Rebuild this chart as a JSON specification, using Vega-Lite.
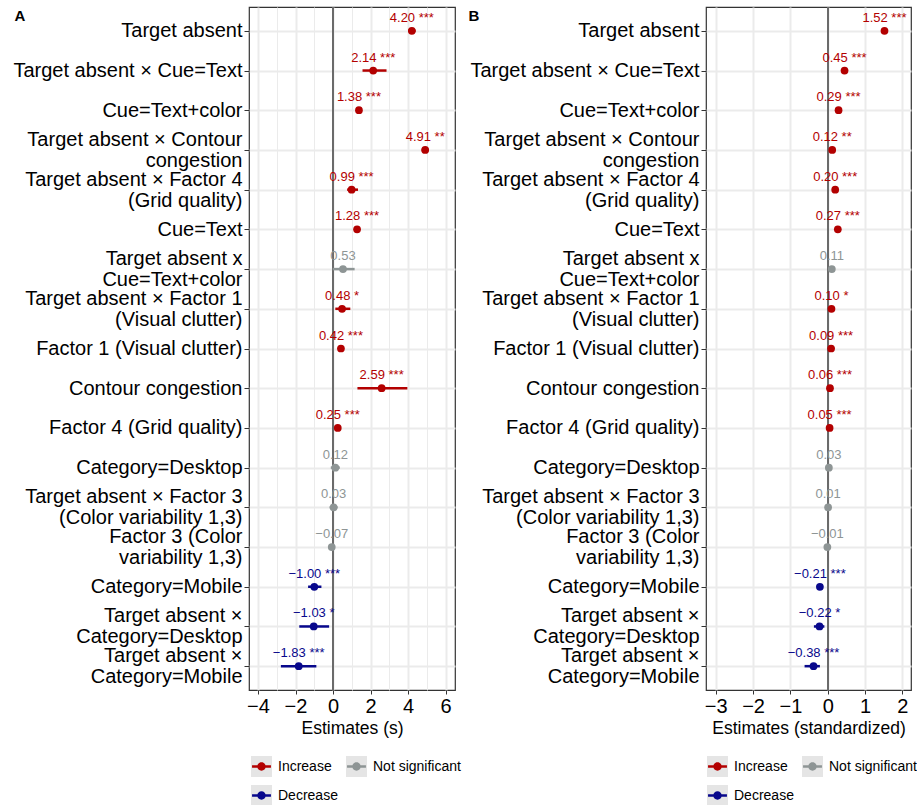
{
  "$schema": "https://vega.github.io/schema/vega-lite/v6.json",
  "padding": {"left": 12, "top": 5, "right": 0, "bottom": 5},
  "spacing": 5,
  "config": {
    "font": "Liberation Sans",
    "view": {"stroke": "#333333", "strokeWidth": 1.2},
    "axis": {"labelColor": "#000000", "tickColor": "#333333", "domain": false, "grid": true, "gridColor": "#EBEBEB", "titleColor": "#000000"},
    "axisX": {"labelFontSize": 20, "labelPadding": 2, "tickSize": 4, "labelOverlap": false, "labelFlush": false, "titleFontSize": 17.5, "titleFontWeight": "normal", "titlePadding": 3},
    "axisY": {"labelFontSize": 20, "labelLineHeight": 21, "labelPadding": 2, "labelLimit": 400, "tickSize": 5, "gridWidth": 2, "titleAngle": 0, "titleAlign": "left", "titleBaseline": "top", "titleFontSize": 15, "titleFontWeight": "bold"}
  },
  "datasets": {
    "a": [
      {"term": "Target absent", "est": 4.20, "lo": 4.0, "hi": 4.4, "sig": "Increase", "label": "4.20 ***"},
      {"term": "Target absent × Cue=Text", "est": 2.14, "lo": 1.57, "hi": 2.85, "sig": "Increase", "label": "2.14 ***"},
      {"term": "Cue=Text+color", "est": 1.38, "lo": 1.24, "hi": 1.52, "sig": "Increase", "label": "1.38 ***"},
      {"term": "Target absent × Contour\ncongestion", "est": 4.91, "lo": 4.72, "hi": 5.10, "sig": "Increase", "label": "4.91 **"},
      {"term": "Target absent × Factor 4\n(Grid quality)", "est": 0.99, "lo": 0.75, "hi": 1.33, "sig": "Increase", "label": "0.99 ***"},
      {"term": "Cue=Text", "est": 1.28, "lo": 1.13, "hi": 1.43, "sig": "Increase", "label": "1.28 ***"},
      {"term": "Target absent x\nCue=Text+color", "est": 0.53, "lo": -0.02, "hi": 1.15, "sig": "Not significant", "label": "0.53"},
      {"term": "Target absent × Factor 1\n(Visual clutter)", "est": 0.48, "lo": 0.12, "hi": 0.92, "sig": "Increase", "label": "0.48 *"},
      {"term": "Factor 1 (Visual clutter)", "est": 0.42, "lo": 0.32, "hi": 0.52, "sig": "Increase", "label": "0.42 ***"},
      {"term": "Contour congestion", "est": 2.59, "lo": 1.30, "hi": 3.96, "sig": "Increase", "label": "2.59 ***"},
      {"term": "Factor 4 (Grid quality)", "est": 0.25, "lo": 0.15, "hi": 0.35, "sig": "Increase", "label": "0.25 ***"},
      {"term": "Category=Desktop", "est": 0.12, "lo": -0.12, "hi": 0.36, "sig": "Not significant", "label": "0.12"},
      {"term": "Target absent × Factor 3\n(Color variability 1,3)", "est": 0.03, "lo": -0.18, "hi": 0.24, "sig": "Not significant", "label": "0.03"},
      {"term": "Factor 3 (Color\nvariability 1,3)", "est": -0.07, "lo": -0.17, "hi": 0.03, "sig": "Not significant", "label": "−0.07"},
      {"term": "Category=Mobile", "est": -1.00, "lo": -1.33, "hi": -0.62, "sig": "Decrease", "label": "−1.00 ***"},
      {"term": "Target absent ×\nCategory=Desktop", "est": -1.03, "lo": -1.80, "hi": -0.21, "sig": "Decrease", "label": "−1.03 *"},
      {"term": "Target absent ×\nCategory=Mobile", "est": -1.83, "lo": -2.78, "hi": -0.89, "sig": "Decrease", "label": "−1.83 ***"}
    ],
    "b": [
      {"term": "Target absent", "est": 1.52, "lo": 1.44, "hi": 1.60, "sig": "Increase", "label": "1.52 ***"},
      {"term": "Target absent × Cue=Text", "est": 0.45, "lo": 0.37, "hi": 0.53, "sig": "Increase", "label": "0.45 ***"},
      {"term": "Cue=Text+color", "est": 0.29, "lo": 0.25, "hi": 0.33, "sig": "Increase", "label": "0.29 ***"},
      {"term": "Target absent × Contour\ncongestion", "est": 0.12, "lo": 0.08, "hi": 0.16, "sig": "Increase", "label": "0.12 **"},
      {"term": "Target absent × Factor 4\n(Grid quality)", "est": 0.20, "lo": 0.16, "hi": 0.24, "sig": "Increase", "label": "0.20 ***"},
      {"term": "Cue=Text", "est": 0.27, "lo": 0.23, "hi": 0.31, "sig": "Increase", "label": "0.27 ***"},
      {"term": "Target absent x\nCue=Text+color", "est": 0.11, "lo": 0.05, "hi": 0.17, "sig": "Not significant", "label": "0.11"},
      {"term": "Target absent × Factor 1\n(Visual clutter)", "est": 0.10, "lo": 0.06, "hi": 0.14, "sig": "Increase", "label": "0.10 *"},
      {"term": "Factor 1 (Visual clutter)", "est": 0.09, "lo": 0.06, "hi": 0.12, "sig": "Increase", "label": "0.09 ***"},
      {"term": "Contour congestion", "est": 0.06, "lo": 0.04, "hi": 0.08, "sig": "Increase", "label": "0.06 ***"},
      {"term": "Factor 4 (Grid quality)", "est": 0.05, "lo": 0.03, "hi": 0.07, "sig": "Increase", "label": "0.05 ***"},
      {"term": "Category=Desktop", "est": 0.03, "lo": 0.0, "hi": 0.06, "sig": "Not significant", "label": "0.03"},
      {"term": "Target absent × Factor 3\n(Color variability 1,3)", "est": 0.01, "lo": -0.03, "hi": 0.05, "sig": "Not significant", "label": "0.01"},
      {"term": "Factor 3 (Color\nvariability 1,3)", "est": -0.01, "lo": -0.03, "hi": 0.01, "sig": "Not significant", "label": "−0.01"},
      {"term": "Category=Mobile", "est": -0.21, "lo": -0.26, "hi": -0.16, "sig": "Decrease", "label": "−0.21 ***"},
      {"term": "Target absent ×\nCategory=Desktop", "est": -0.22, "lo": -0.37, "hi": -0.09, "sig": "Decrease", "label": "−0.22 *"},
      {"term": "Target absent ×\nCategory=Mobile", "est": -0.38, "lo": -0.62, "hi": -0.21, "sig": "Decrease", "label": "−0.38 ***"}
    ]
  },
  "resolve": {
    "scale": {"x": "independent", "fill": "independent", "color": "independent"},
    "legend": {"fill": "independent", "color": "independent"}
  },
  "hconcat": [
    {
      "width": 206,
      "height": 683,
      "data": {"name": "a"},
      "layer": [
        {
          "mark": {"type": "rule", "color": "#6B6B6B", "strokeWidth": 1.2},
          "encoding": {
            "x": {"datum": 0, "type": "quantitative", "scale": {"domain": [-4.48, 6.5], "nice": false, "zero": false},
              "axis": {"title": "Estimates (s)", "values": [-4, -3, -2, -1, 0, 1, 2, 3, 4, 5, 6], "labelExpr": "datum.value % 2 === 0 ? datum.label : ''", "tickOpacity": {"condition": {"test": "datum.value % 2 !== 0", "value": 0}, "value": 1}, "gridWidth": {"condition": {"test": "datum.value % 2 !== 0", "value": 1}, "value": 2}}}
          }
        },
        {
          "mark": {"type": "rule", "strokeWidth": 2.5},
          "encoding": {
            "y": {"field": "term", "type": "nominal", "sort": null, "scale": {"type": "point", "padding": 0.6},
              "axis": {"title": "A", "titleX": -235, "titleY": 1, "labelExpr": "split(datum.label, '\\n')", "labelOffset": {"condition": {"test": "indexof(datum.label, '\\n') >= 0", "value": -10.5}, "value": 0}}},
            "x": {"field": "lo", "type": "quantitative", "scale": {"domain": [-4.48, 6.5], "nice": false, "zero": false},
              "axis": {"title": "Estimates (s)", "values": [-4, -3, -2, -1, 0, 1, 2, 3, 4, 5, 6], "labelExpr": "datum.value % 2 === 0 ? datum.label : ''", "tickOpacity": {"condition": {"test": "datum.value % 2 !== 0", "value": 0}, "value": 1}, "gridWidth": {"condition": {"test": "datum.value % 2 !== 0", "value": 1}, "value": 2}}},
            "x2": {"field": "hi"},
            "stroke": {"condition": [{"test": "datum.sig === 'Increase'", "value": "#B30000"}, {"test": "datum.sig === 'Decrease'", "value": "#08088C"}], "value": "#8E9595"}
          }
        },
        {
          "mark": {"type": "square", "opacity": 0, "size": 4},
          "encoding": {
            "y": {"field": "term", "type": "nominal", "sort": null, "scale": {"type": "point", "padding": 0.6},
              "axis": {"title": "A", "titleX": -235, "titleY": 1, "labelExpr": "split(datum.label, '\\n')", "labelOffset": {"condition": {"test": "indexof(datum.label, '\\n') >= 0", "value": -10.5}, "value": 0}}},
            "x": {"field": "est", "type": "quantitative", "scale": {"domain": [-4.48, 6.5], "nice": false, "zero": false},
              "axis": {"title": "Estimates (s)", "values": [-4, -3, -2, -1, 0, 1, 2, 3, 4, 5, 6], "labelExpr": "datum.value % 2 === 0 ? datum.label : ''", "tickOpacity": {"condition": {"test": "datum.value % 2 !== 0", "value": 0}, "value": 1}, "gridWidth": {"condition": {"test": "datum.value % 2 !== 0", "value": 1}, "value": 2}}},
            "color": {"field": "sig", "type": "nominal", "scale": {"domain": ["Decrease", "Not significant", "Increase"], "range": ["#E5E5E5", "#E5E5E5", "#E5E5E5"]},
              "legend": {"orient": "none", "legendX": 2, "legendY": 749, "direction": "horizontal", "columns": 2, "title": null, "symbolType": "square", "symbolSize": 441, "symbolOpacity": 1, "symbolStrokeWidth": 0, "labelOpacity": 0, "labelExpr": "datum.label === 'Decrease' ? 'Increase' : datum.label === 'Increase' ? 'Decrease' : datum.label", "labelFontSize": 14, "labelOffset": 6, "columnPadding": 8, "rowPadding": 8}}
          }
        },
        {
          "mark": {"type": "circle", "size": 60, "opacity": 1},
          "encoding": {
            "y": {"field": "term", "type": "nominal", "sort": null, "scale": {"type": "point", "padding": 0.6},
              "axis": {"title": "A", "titleX": -235, "titleY": 1, "labelExpr": "split(datum.label, '\\n')", "labelOffset": {"condition": {"test": "indexof(datum.label, '\\n') >= 0", "value": -10.5}, "value": 0}}},
            "x": {"field": "est", "type": "quantitative", "scale": {"domain": [-4.48, 6.5], "nice": false, "zero": false},
              "axis": {"title": "Estimates (s)", "values": [-4, -3, -2, -1, 0, 1, 2, 3, 4, 5, 6], "labelExpr": "datum.value % 2 === 0 ? datum.label : ''", "tickOpacity": {"condition": {"test": "datum.value % 2 !== 0", "value": 0}, "value": 1}, "gridWidth": {"condition": {"test": "datum.value % 2 !== 0", "value": 1}, "value": 2}}},
            "fill": {"field": "sig", "type": "nominal", "scale": {"domain": ["Increase", "Not significant", "Decrease"], "range": ["#B30000", "#8E9595", "#08088C"]},
              "legend": {"orient": "none", "legendX": 2, "legendY": 749, "direction": "horizontal", "columns": 2, "title": null, "symbolType": "M-1,-1M1,1M-0.9,-0.13H0.9V0.13H-0.9Z M0.4,0A0.4,0.4 0 1,1 -0.4,0A0.4,0.4 0 1,1 0.4,0Z", "symbolSize": 441, "symbolOpacity": 1, "symbolStrokeWidth": 0, "labelFontSize": 14, "labelColor": "#000000", "labelOffset": 6, "columnPadding": 8, "rowPadding": 8}}
          }
        },
        {
          "mark": {"type": "text", "fontSize": 13, "dy": -9, "baseline": "alphabetic", "align": "center"},
          "encoding": {
            "y": {"field": "term", "type": "nominal", "sort": null, "scale": {"type": "point", "padding": 0.6},
              "axis": {"title": "A", "titleX": -235, "titleY": 1, "labelExpr": "split(datum.label, '\\n')", "labelOffset": {"condition": {"test": "indexof(datum.label, '\\n') >= 0", "value": -10.5}, "value": 0}}},
            "x": {"field": "est", "type": "quantitative", "scale": {"domain": [-4.48, 6.5], "nice": false, "zero": false},
              "axis": {"title": "Estimates (s)", "values": [-4, -3, -2, -1, 0, 1, 2, 3, 4, 5, 6], "labelExpr": "datum.value % 2 === 0 ? datum.label : ''", "tickOpacity": {"condition": {"test": "datum.value % 2 !== 0", "value": 0}, "value": 1}, "gridWidth": {"condition": {"test": "datum.value % 2 !== 0", "value": 1}, "value": 2}}},
            "text": {"field": "label", "type": "nominal"},
            "fill": {"condition": [{"test": "datum.sig === 'Increase'", "value": "#B30000"}, {"test": "datum.sig === 'Decrease'", "value": "#08088C"}], "value": "#8E9595"}
          }
        }
      ]
    },
    {
      "width": 205,
      "height": 683,
      "data": {"name": "b"},
      "layer": [
        {
          "mark": {"type": "rule", "color": "#6B6B6B", "strokeWidth": 1.2},
          "encoding": {
            "x": {"datum": 0, "type": "quantitative", "scale": {"domain": [-3.26, 2.23], "nice": false, "zero": false},
              "axis": {"title": "Estimates (standardized)", "format": "d", "values": [-3, -2.5, -2, -1.5, -1, -0.5, 0, 0.5, 1, 1.5, 2], "labelExpr": "datum.value % 1 === 0 ? datum.label : ''", "tickOpacity": {"condition": {"test": "datum.value % 1 !== 0", "value": 0}, "value": 1}, "gridWidth": {"condition": {"test": "datum.value % 1 !== 0", "value": 1}, "value": 2}}}
          }
        },
        {
          "mark": {"type": "rule", "strokeWidth": 2.5},
          "encoding": {
            "y": {"field": "term", "type": "nominal", "sort": null, "scale": {"type": "point", "padding": 0.6},
              "axis": {"title": "B", "titleX": -238, "titleY": 1, "labelExpr": "split(datum.label, '\\n')", "labelOffset": {"condition": {"test": "indexof(datum.label, '\\n') >= 0", "value": -10.5}, "value": 0}}},
            "x": {"field": "lo", "type": "quantitative", "scale": {"domain": [-3.26, 2.23], "nice": false, "zero": false},
              "axis": {"title": "Estimates (standardized)", "format": "d", "values": [-3, -2.5, -2, -1.5, -1, -0.5, 0, 0.5, 1, 1.5, 2], "labelExpr": "datum.value % 1 === 0 ? datum.label : ''", "tickOpacity": {"condition": {"test": "datum.value % 1 !== 0", "value": 0}, "value": 1}, "gridWidth": {"condition": {"test": "datum.value % 1 !== 0", "value": 1}, "value": 2}}},
            "x2": {"field": "hi"},
            "stroke": {"condition": [{"test": "datum.sig === 'Increase'", "value": "#B30000"}, {"test": "datum.sig === 'Decrease'", "value": "#08088C"}], "value": "#8E9595"}
          }
        },
        {
          "mark": {"type": "square", "opacity": 0, "size": 4},
          "encoding": {
            "y": {"field": "term", "type": "nominal", "sort": null, "scale": {"type": "point", "padding": 0.6},
              "axis": {"title": "B", "titleX": -238, "titleY": 1, "labelExpr": "split(datum.label, '\\n')", "labelOffset": {"condition": {"test": "indexof(datum.label, '\\n') >= 0", "value": -10.5}, "value": 0}}},
            "x": {"field": "est", "type": "quantitative", "scale": {"domain": [-3.26, 2.23], "nice": false, "zero": false},
              "axis": {"title": "Estimates (standardized)", "format": "d", "values": [-3, -2.5, -2, -1.5, -1, -0.5, 0, 0.5, 1, 1.5, 2], "labelExpr": "datum.value % 1 === 0 ? datum.label : ''", "tickOpacity": {"condition": {"test": "datum.value % 1 !== 0", "value": 0}, "value": 1}, "gridWidth": {"condition": {"test": "datum.value % 1 !== 0", "value": 1}, "value": 2}}},
            "color": {"field": "sig", "type": "nominal", "scale": {"domain": ["Decrease", "Not significant", "Increase"], "range": ["#E5E5E5", "#E5E5E5", "#E5E5E5"]},
              "legend": {"orient": "none", "legendX": 1, "legendY": 749, "direction": "horizontal", "columns": 2, "title": null, "symbolType": "square", "symbolSize": 441, "symbolOpacity": 1, "symbolStrokeWidth": 0, "labelOpacity": 0, "labelExpr": "datum.label === 'Decrease' ? 'Increase' : datum.label === 'Increase' ? 'Decrease' : datum.label", "labelFontSize": 14, "labelOffset": 6, "columnPadding": 8, "rowPadding": 8}}
          }
        },
        {
          "mark": {"type": "circle", "size": 60, "opacity": 1},
          "encoding": {
            "y": {"field": "term", "type": "nominal", "sort": null, "scale": {"type": "point", "padding": 0.6},
              "axis": {"title": "B", "titleX": -238, "titleY": 1, "labelExpr": "split(datum.label, '\\n')", "labelOffset": {"condition": {"test": "indexof(datum.label, '\\n') >= 0", "value": -10.5}, "value": 0}}},
            "x": {"field": "est", "type": "quantitative", "scale": {"domain": [-3.26, 2.23], "nice": false, "zero": false},
              "axis": {"title": "Estimates (standardized)", "format": "d", "values": [-3, -2.5, -2, -1.5, -1, -0.5, 0, 0.5, 1, 1.5, 2], "labelExpr": "datum.value % 1 === 0 ? datum.label : ''", "tickOpacity": {"condition": {"test": "datum.value % 1 !== 0", "value": 0}, "value": 1}, "gridWidth": {"condition": {"test": "datum.value % 1 !== 0", "value": 1}, "value": 2}}},
            "fill": {"field": "sig", "type": "nominal", "scale": {"domain": ["Increase", "Not significant", "Decrease"], "range": ["#B30000", "#8E9595", "#08088C"]},
              "legend": {"orient": "none", "legendX": 1, "legendY": 749, "direction": "horizontal", "columns": 2, "title": null, "symbolType": "M-1,-1M1,1M-0.9,-0.13H0.9V0.13H-0.9Z M0.4,0A0.4,0.4 0 1,1 -0.4,0A0.4,0.4 0 1,1 0.4,0Z", "symbolSize": 441, "symbolOpacity": 1, "symbolStrokeWidth": 0, "labelFontSize": 14, "labelColor": "#000000", "labelOffset": 6, "columnPadding": 8, "rowPadding": 8}}
          }
        },
        {
          "mark": {"type": "text", "fontSize": 13, "dy": -9, "baseline": "alphabetic", "align": "center"},
          "encoding": {
            "y": {"field": "term", "type": "nominal", "sort": null, "scale": {"type": "point", "padding": 0.6},
              "axis": {"title": "B", "titleX": -238, "titleY": 1, "labelExpr": "split(datum.label, '\\n')", "labelOffset": {"condition": {"test": "indexof(datum.label, '\\n') >= 0", "value": -10.5}, "value": 0}}},
            "x": {"field": "est", "type": "quantitative", "scale": {"domain": [-3.26, 2.23], "nice": false, "zero": false},
              "axis": {"title": "Estimates (standardized)", "format": "d", "values": [-3, -2.5, -2, -1.5, -1, -0.5, 0, 0.5, 1, 1.5, 2], "labelExpr": "datum.value % 1 === 0 ? datum.label : ''", "tickOpacity": {"condition": {"test": "datum.value % 1 !== 0", "value": 0}, "value": 1}, "gridWidth": {"condition": {"test": "datum.value % 1 !== 0", "value": 1}, "value": 2}}},
            "text": {"field": "label", "type": "nominal"},
            "fill": {"condition": [{"test": "datum.sig === 'Increase'", "value": "#B30000"}, {"test": "datum.sig === 'Decrease'", "value": "#08088C"}], "value": "#8E9595"}
          }
        }
      ]
    }
  ]
}
